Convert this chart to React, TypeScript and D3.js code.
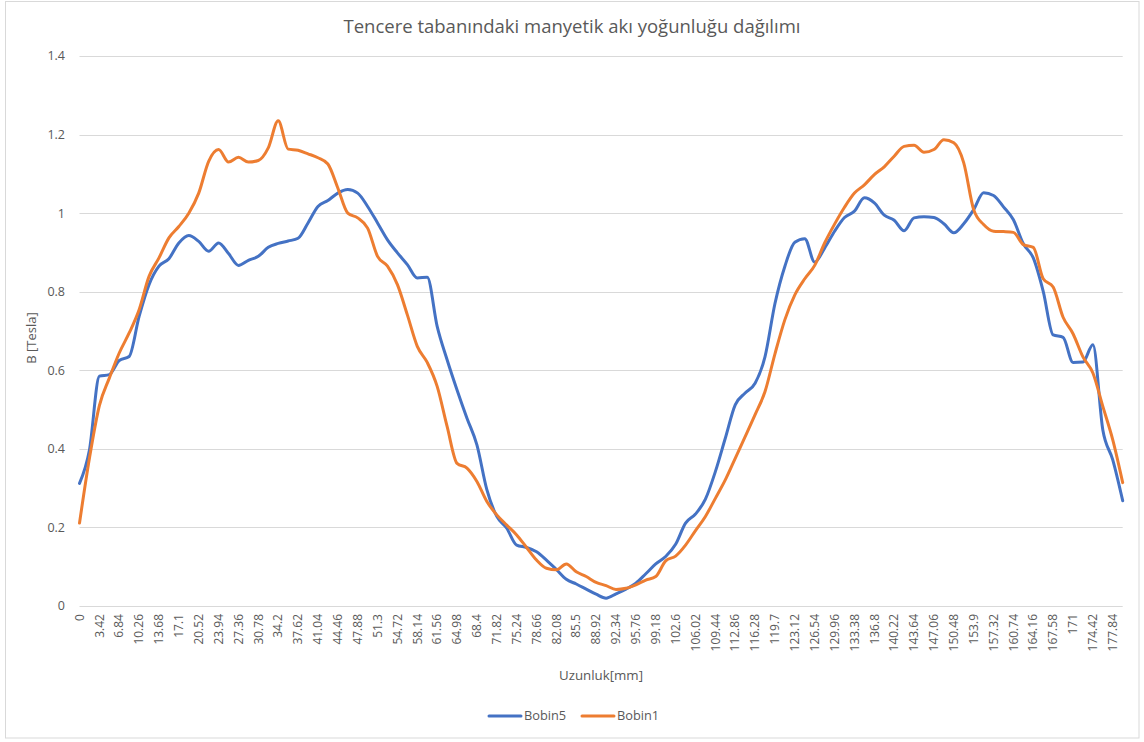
import React from "react";
import * as d3 from "d3";

const positionsMm = [
  0, 1.71, 3.42, 5.13, 6.84, 8.55, 10.26, 11.97, 13.68, 15.39, 17.1, 18.81, 20.52, 22.23, 23.94, 25.65,
  27.36, 29.07, 30.78, 32.49, 34.2, 35.91, 37.62, 39.33, 41.04, 42.75, 44.46, 46.17, 47.88, 49.59, 51.3,
  53.01, 54.72, 56.43, 58.14, 59.85, 61.56, 63.27, 64.98, 66.69, 68.4, 70.11, 71.82, 73.53, 75.24, 76.95,
  78.66, 80.37, 82.08, 83.79, 85.5, 87.21, 88.92, 90.63, 92.34, 94.05, 95.76, 97.47, 99.18, 100.89, 102.6,
  104.31, 106.02, 107.73, 109.44, 111.15, 112.86, 114.57, 116.28, 117.99, 119.7, 121.41, 123.12, 124.83,
  126.54, 128.25, 129.96, 131.67, 133.38, 135.09, 136.8, 138.51, 140.22, 141.93, 143.64, 145.35, 147.06,
  148.77, 150.48, 152.19, 153.9, 155.61, 157.32, 159.03, 160.74, 162.45, 164.16, 165.87, 167.58, 169.29,
  171, 172.71, 174.42, 176.13, 177.84, 179.55,
];

const bobin5 = [
  0.312, 0.397, 0.585, 0.589, 0.625, 0.635, 0.737, 0.818, 0.865, 0.884, 0.924, 0.943, 0.928, 0.903, 0.924,
  0.897, 0.867, 0.88, 0.89, 0.913, 0.923, 0.929, 0.936, 0.975, 1.017, 1.032, 1.051, 1.06, 1.051, 1.017,
  0.975, 0.932, 0.899, 0.869, 0.835, 0.837, 0.712, 0.627, 0.55, 0.478, 0.41, 0.296, 0.228, 0.198, 0.155,
  0.149, 0.138, 0.117, 0.093, 0.068, 0.056, 0.043, 0.03, 0.02, 0.031, 0.043, 0.058, 0.082, 0.107, 0.126,
  0.157, 0.211, 0.234, 0.272, 0.342, 0.427, 0.512, 0.542, 0.567, 0.635, 0.77, 0.865, 0.926, 0.935, 0.875,
  0.911, 0.954, 0.989, 1.005, 1.039, 1.026, 0.995, 0.982, 0.955, 0.988, 0.991, 0.989, 0.973, 0.95, 0.973,
  1.009, 1.052, 1.045, 1.016, 0.983, 0.922, 0.886, 0.801, 0.69, 0.684, 0.62, 0.621, 0.665, 0.448, 0.372,
  0.268,
];

const bobin1 = [
  0.211, 0.376, 0.51, 0.58, 0.644, 0.695, 0.754, 0.839, 0.886, 0.937, 0.966, 1.0, 1.051, 1.132, 1.162,
  1.13, 1.142, 1.13, 1.134, 1.166, 1.235, 1.163, 1.16, 1.151, 1.141, 1.125, 1.064, 1.0, 0.988, 0.962,
  0.89, 0.865, 0.818, 0.741, 0.661, 0.62, 0.559, 0.457, 0.363, 0.351, 0.317, 0.266, 0.232, 0.206, 0.181,
  0.149, 0.117, 0.096, 0.092, 0.107, 0.087, 0.075, 0.06, 0.052, 0.042, 0.045, 0.054, 0.066, 0.075, 0.115,
  0.127, 0.155, 0.192, 0.228, 0.274, 0.321, 0.376, 0.431, 0.487, 0.546, 0.642, 0.729, 0.792, 0.833, 0.867,
  0.924, 0.972, 1.015, 1.051, 1.072, 1.098, 1.118, 1.145, 1.17, 1.173, 1.155, 1.162, 1.187, 1.179, 1.128,
  1.009, 0.971, 0.954, 0.953, 0.951, 0.92, 0.913, 0.833, 0.812, 0.735, 0.693, 0.634, 0.593, 0.508, 0.423,
  0.314,
];

const xTickLabels = [
  "0", "3.42", "6.84", "10.26", "13.68", "17.1", "20.52", "23.94", "27.36", "30.78", "34.2", "37.62",
  "41.04", "44.46", "47.88", "51.3", "54.72", "58.14", "61.56", "64.98", "68.4", "71.82", "75.24", "78.66",
  "82.08", "85.5", "88.92", "92.34", "95.76", "99.18", "102.6", "106.02", "109.44", "112.86", "116.28",
  "119.7", "123.12", "126.54", "129.96", "133.38", "136.8", "140.22", "143.64", "147.06", "150.48", "153.9",
  "157.32", "160.74", "164.16", "167.58", "171", "174.42", "177.84",
];

const yTicks = [0, 0.2, 0.4, 0.6, 0.8, 1, 1.2, 1.4];

const seriesNames = ["Bobin5", "Bobin1"];
const seriesColors = ["#4472C4", "#ED7D31"];

const W = 1144;
const H = 742;
const FONT = "'Open Sans', 'Segoe UI', sans-serif";
const TEXT = "#595959";

export default function App() {
  const x = d3.scaleLinear().domain([0, 179.55]).range([79.5, 1122.7]);
  const y = d3.scaleLinear().domain([0, 1.4]).range([606, 56]);
  const line = d3
    .line<number>()
    .x((_, i) => x(positionsMm[i]))
    .y((d) => y(d))
    .curve(d3.curveMonotoneX);
  const series = [bobin5, bobin1];

  return (
    <svg
      width={W}
      height={H}
      style={{ position: "absolute", left: 0, top: 0, background: "#fff" }}
      fontFamily={FONT}
    >
      <rect x={0} y={0} width={W} height={H} fill="#fff" />
      <rect x={5.5} y={1.5} width={1133.5} height={736.5} fill="none" stroke="#d9d9d9" strokeWidth={1} />
      <text x={572} y={33} textAnchor="middle" fontSize={18.5} fill={TEXT}>
        Tencere tabanındaki manyetik akı yoğunluğu dağılımı
      </text>
      {yTicks.map((t) => (
        <g key={t}>
          <line x1={79.5} x2={1122.7} y1={Math.round(y(t)) + 0.5} y2={Math.round(y(t)) + 0.5} stroke="#d9d9d9" strokeWidth={1} />
          <text x={65} y={y(t)} dy="0.35em" textAnchor="end" fontSize={12.5} fill={TEXT}>
            {t}
          </text>
        </g>
      ))}
      {xTickLabels.map((l) => (
        <text
          key={l}
          transform={`translate(${x(parseFloat(l))},614) rotate(-90)`}
          dy="0.35em"
          textAnchor="end"
          fontSize={12}
          fill={TEXT}
        >
          {l}
        </text>
      ))}
      <text transform="translate(36,338) rotate(-90)" textAnchor="middle" fontSize={13} fill={TEXT}>
        B [Tesla]
      </text>
      <text x={601} y={680} textAnchor="middle" fontSize={13.3} fill={TEXT}>
        Uzunluk[mm]
      </text>
      {series.map((s, k) => (
        <path
          key={seriesNames[k]}
          d={line(s) || ""}
          fill="none"
          stroke={seriesColors[k]}
          strokeWidth={3}
          strokeLinejoin="round"
          strokeLinecap="round"
        />
      ))}
      {seriesNames.map((n, k) => (
        <g key={n} transform={`translate(${489 + k * 93},716)`}>
          <line x1={0} x2={32} y1={0} y2={0} stroke={seriesColors[k]} strokeWidth={3} strokeLinecap="round" />
          <text x={35} y={0} dy="0.35em" fontSize={12.8} fill={TEXT}>
            {n}
          </text>
        </g>
      ))}
    </svg>
  );
}
